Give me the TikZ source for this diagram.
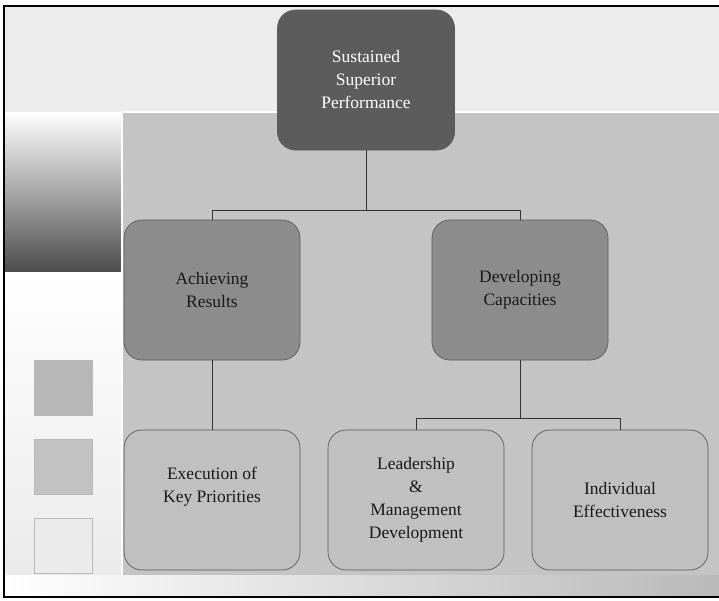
\documentclass[tikz,border=0pt]{standalone}
\usepackage{fontspec}
\setmainfont{Liberation Serif}
\usepackage{xcolor}
\usetikzlibrary{positioning,calc}
\definecolor{boxdark}{HTML}{5C5C5C}
\definecolor{boxmid}{HTML}{8C8C8C}
\definecolor{boxlow}{HTML}{C0C0C0}
\definecolor{stripgray}{HTML}{ECECEC}
\definecolor{panelgray}{HTML}{C4C4C4}
\tikzset{
  orgfont/.style={font=\fontsize{17.5}{23}\selectfont},
  orgbox/.style={draw=black!65, line width=0.7pt, rounded corners=18pt, align=center,
    minimum width=176pt, minimum height=140pt, inner sep=4pt},
  orgboxtop/.style={orgbox, fill=boxdark, text=white},
  orgboxmid/.style={orgbox, fill=boxmid, text=black!90},
  orgboxlow/.style={orgbox, fill=boxlow, text=black!90},
  orgline/.style={draw=black!80, line width=0.8pt},
  keysquare/.style={draw=gray!55, minimum width=58pt, minimum height=55pt, inner sep=0pt},
}

\begin{document}
\begin{tikzpicture}[orgfont, x=1pt, y=-1pt]
		\useasboundingbox (0,0) rectangle (719,600);

		% Background strips
		\fill[stripgray] (4,6) rectangle (719,112);
		\shade[shading angle=160, top color=white, bottom color=black!70] (4,112) rectangle (122,272);
		\shade[top color=white, bottom color=white!92!black] (4,272) rectangle (122,575);
		\shade[shading angle=35, top color=panelgray, middle color=white!90!black, bottom color=panelgray]
			(122,112) rectangle (719,575);
		\draw[white, line width=1.5pt] (122,575) -- (122,112) -- (719,112);
		\shade[left color=white, right color=gray!55] (4,575) rectangle (719,597);

		% Frame
		\draw[line width=2pt] (719,6) -| (4,597) -- (719,597);

		% Key squares
		\node[keysquare, fill=white!72!black] (keyA) at (63,388) {};
		\node[keysquare, fill=white!76!black] (keyB) at (63,467) {};
		\node[keysquare, fill=white!92!black] (keyC) at (63,546) {};

		% Top level
		\node[orgboxtop, minimum width=177pt] (sustained) at (366,80) {Sustained\\Superior\\Performance};

		% Second level
		\node[orgboxmid] (achieving) at (212,290) {Achieving\\Results};
		\node[orgboxmid] (developing) at (520,290) {Developing\\Capacities};

		% Third level
		\node[orgboxlow] (execution) at (212,500) {Execution of\\Key Priorities\\[8pt]};
		\node[orgboxlow] (leadership) at (416,500) {Leadership\\\&\\Management\\Development};
		\node[orgboxlow] (individual) at (620,500) {Individual\\Effectiveness};

		% Connectors
		\draw[orgline] (sustained.south) -- ++(0,60) -| (achieving.north);
		\draw[orgline] (sustained.south) -- ++(0,60) -| (developing.north);
		\draw[orgline] (achieving.south) -- (execution.north);
		\draw[orgline] (developing.south) -- ++(0,58) -| (leadership.north);
		\draw[orgline] (developing.south) -- ++(0,58) -| (individual.north);
	\end{tikzpicture}
\end{document}
